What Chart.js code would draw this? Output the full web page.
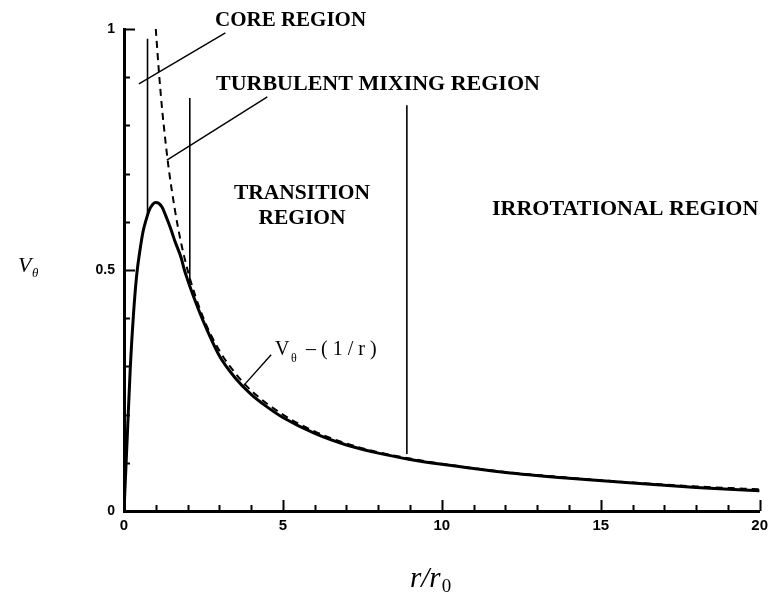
<!DOCTYPE html>
<html>
<head>
<meta charset="utf-8">
<script src="https://cdn.jsdelivr.net/npm/chart.js@4.4.0/dist/chart.umd.min.js"></script>
<style>
  html, body { margin: 0; padding: 0; background: #fff; }
  #wrap { width: 774px; height: 596px; }
</style>
</head>
<body>
<div id="wrap"><canvas id="vortex-chart" width="774" height="596"></canvas></div>
<script>
// tangential velocity profile of the vortex (solid)
const profileR = [0, 0.1, 0.2, 0.3, 0.4, 0.5, 0.6, 0.7, 0.8, 0.9, 1.0, 1.1, 1.2, 1.3, 1.4, 1.5, 1.6, 1.8, 1.9, 2.0, 2.2, 2.5, 3.0, 3.5, 4.0, 4.5, 5, 6, 7, 8, 9, 10, 12, 14, 16, 18, 20];
const profileV = [0, 0.15, 0.30, 0.41, 0.49, 0.54, 0.58, 0.605, 0.625, 0.636, 0.64, 0.638, 0.63, 0.615, 0.598, 0.58, 0.56, 0.525, 0.5, 0.48, 0.443, 0.393, 0.322, 0.276, 0.242, 0.216, 0.194, 0.161, 0.137, 0.12, 0.107, 0.097, 0.08, 0.068, 0.058, 0.049, 0.042];

// 1/r asymptote (dashed)
const asymR = [1.0, 1.1, 1.2, 1.3, 1.4, 1.5, 1.7, 2.0, 2.5, 3.0, 3.5, 4, 5, 6, 7, 8, 9, 10, 12, 14, 16, 18, 20];
const asymV = [1.0, 0.91, 0.833, 0.77, 0.714, 0.667, 0.588, 0.5, 0.4, 0.333, 0.286, 0.25, 0.2, 0.165, 0.14, 0.122, 0.109, 0.098, 0.081, 0.069, 0.059, 0.051, 0.045];

// region boundaries
const boundaryR = [0.74, 2.07, 8.9];
const boundaryTop = [0.98, 0.857, 0.842];
const boundaryBottom = [0.612, 0.47, 0.118];

// label leader lines [r0, v0, r1, v1]
const coreLeader = [3.19, 0.992, 0.47, 0.886];
const mixingLeader = [4.51, 0.859, 1.35, 0.728];
const asymLeader = [4.63, 0.324, 3.72, 0.257];

const xTicks = [0, 5, 10, 15, 20];
const yTicks = [0, 0.5, 1];

const toPoints = (xs, ys) => xs.map((x, i) => ({ x: x, y: ys[i] }));
const segment = (a) => [{ x: a[0], y: a[1] }, { x: a[2], y: a[3] }];

const datasets = [
  {
    data: toPoints(profileR, profileV),
    borderColor: '#000',
    borderWidth: 3,
    cubicInterpolationMode: 'monotone'
  },
  {
    data: toPoints(asymR, asymV),
    borderColor: '#000',
    borderWidth: 2,
    borderDash: [7, 5],
    cubicInterpolationMode: 'monotone'
  }
];

boundaryR.forEach((r, i) => {
  datasets.push({
    data: [{ x: r, y: boundaryTop[i] }, { x: r, y: boundaryBottom[i] }],
    borderColor: '#000',
    borderWidth: 1.6
  });
});

[coreLeader, mixingLeader, asymLeader].forEach((l) => {
  datasets.push({ data: segment(l), borderColor: '#000', borderWidth: 1.4 });
});

datasets.forEach((d) => {
  d.showLine = true;
  d.pointRadius = 0;
  d.fill = false;
});

// inward tick marks on both axes
const axisTicks = {
  id: 'axisTicks',
  afterDraw(chart) {
    const { ctx, chartArea, scales: { x, y } } = chart;
    ctx.save();
    ctx.strokeStyle = '#000';
    ctx.lineWidth = 2;
    for (let i = 0; i <= 20; i++) {
      const px = Math.round(x.getPixelForValue(i)) + 0.5;
      const len = i % 5 === 0 ? 11 : 6;
      ctx.beginPath();
      ctx.moveTo(px, chartArea.bottom);
      ctx.lineTo(px, chartArea.bottom - len);
      ctx.stroke();
    }
    for (let j = 0; j <= 10; j++) {
      const py = Math.round(y.getPixelForValue(j / 10)) + 0.5;
      const len = j % 5 === 0 ? 11 : 6;
      ctx.beginPath();
      ctx.moveTo(chartArea.left, py);
      ctx.lineTo(chartArea.left + len, py);
      ctx.stroke();
    }
    ctx.restore();
  }
};

// region names and axis titles
const annotations = {
  id: 'annotations',
  afterDraw(chart) {
    const { ctx } = chart;
    ctx.save();
    ctx.fillStyle = '#000';
    ctx.textBaseline = 'alphabetic';

    ctx.font = 'bold 21px "Liberation Serif"';
    ctx.textAlign = 'left';
    ctx.fillText('CORE REGION', 215, 26);
    ctx.font = 'bold 22px "Liberation Serif"';
    ctx.fillText('TURBULENT MIXING REGION', 216, 90);
    ctx.fillText('IRROTATIONAL REGION', 492, 215);
    ctx.font = 'bold 21.5px "Liberation Serif"';
    ctx.textAlign = 'center';
    ctx.fillText('TRANSITION', 302, 199);
    ctx.fillText('REGION', 302, 224);

    // V_theta ~ (1/r)
    ctx.textAlign = 'left';
    ctx.font = '20px "Liberation Serif"';
    ctx.fillText('V', 275, 355);
    ctx.font = '12px "Liberation Serif"';
    ctx.fillText('\u03b8', 291, 362);
    ctx.font = '20px "Liberation Serif"';
    ctx.fillText('\u2013 ( 1 / r )', 306, 355);

    // y title
    ctx.font = 'italic 22px "Liberation Serif"';
    ctx.fillText('V', 18, 272);
    ctx.font = 'italic 13px "Liberation Serif"';
    ctx.fillText('\u03b8', 32, 277);

    // x title
    ctx.font = 'italic 29px "Liberation Serif"';
    ctx.fillText('r/r', 410, 587);
    const w = ctx.measureText('r/r').width;
    ctx.font = '19px "Liberation Serif"';
    ctx.fillText('0', 410 + w + 1, 592);

    ctx.restore();
  }
};

new Chart(document.getElementById('vortex-chart'), {
  type: 'scatter',
  data: { datasets: datasets },
  options: {
    responsive: false,
    animation: false,
    layout: { padding: { top: 29, right: 11, left: 0, bottom: 0 } },
    plugins: {
      legend: { display: false },
      tooltip: { enabled: false }
    },
    scales: {
      x: {
        type: 'linear',
        min: 0,
        max: 20,
        afterFit(scale) { scale.height = 85; },
        afterBuildTicks(scale) { scale.ticks = xTicks.map((v) => ({ value: v })); },
        ticks: {
          color: '#000',
          padding: 6,
          font: { family: '"Liberation Sans"', size: 15, weight: 'bold' },
          callback: (v) => String(v)
        },
        grid: { display: false, drawTicks: false },
        border: { display: true, color: '#000', width: 3 }
      },
      y: {
        type: 'linear',
        min: 0,
        max: 1,
        afterFit(scale) { scale.width = 124; },
        afterBuildTicks(scale) { scale.ticks = yTicks.map((v) => ({ value: v })); },
        ticks: {
          color: '#000',
          padding: 9,
          font: { family: '"Liberation Sans"', size: 14, weight: 'bold' },
          callback: (v) => String(v)
        },
        grid: { display: false, drawTicks: false },
        border: { display: true, color: '#000', width: 3 }
      }
    }
  },
  plugins: [axisTicks, annotations]
});
</script>
</body>
</html>
